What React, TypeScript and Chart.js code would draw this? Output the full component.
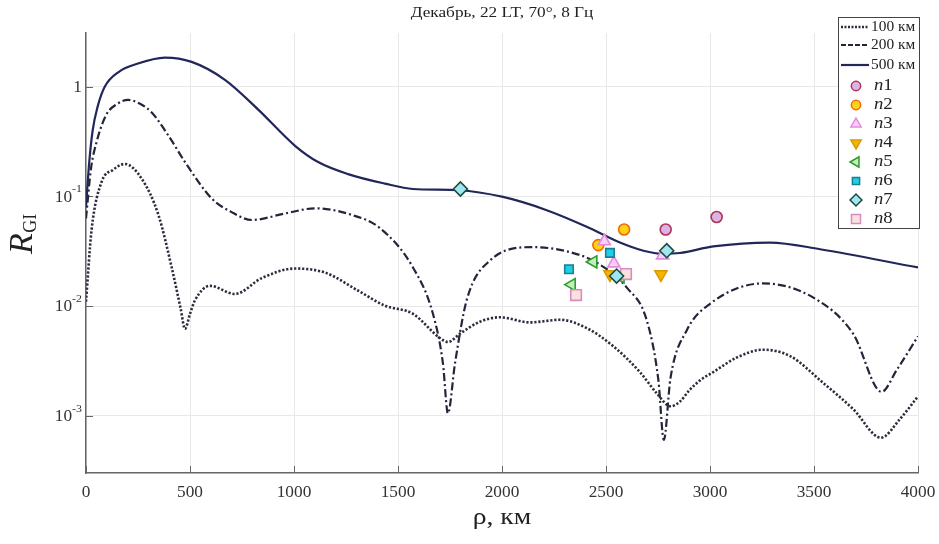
import React, { useEffect, useRef } from 'react';
import { Chart, registerables } from 'chart.js';
import { drawPoint } from 'chart.js/helpers';

Chart.register(...registerables);

const SERIF = '"Liberation Serif", "Times New Roman", serif';
const SX = 1.12;

// ---- text ----
const titleText = 'Декабрь, 22 LT, 70°, 8 Гц';
const xTitle = 'ρ, км';
const yTitleMain = 'R';
const yTitleSub = 'GI';

// ---- ticks ----
const xTickValues = [0, 500, 1000, 1500, 2000, 2500, 3000, 3500, 4000];
const xTickLabels = ['0', '500', '1000', '1500', '2000', '2500', '3000', '3500', '4000'];
const yTickValues = [0.001, 0.01, 0.1, 1];
const yTickLabels = ['10^-3', '10^-2', '10^-1', '1'];

// ---- curves ----
const rho100 = [0, 27, 75, 130, 187, 268, 348, 412, 455, 476, 500, 524, 596, 716, 845, 1005, 1149, 1309, 1437, 1572, 1702, 1740, 1798, 1894, 1990, 2135, 2279, 2407, 2535, 2663, 2744, 2810, 2856, 2900, 2952, 3016, 3130, 3255, 3385, 3543, 3688, 3822, 3913, 4000];
const r100 = [0.011, 0.05, 0.136, 0.175, 0.198, 0.145, 0.068, 0.0225, 0.0095, 0.0062, 0.0085, 0.0113, 0.0153, 0.0129, 0.018, 0.022, 0.0202, 0.0138, 0.0101, 0.0085, 0.0051, 0.0047, 0.0056, 0.0072, 0.0079, 0.0071, 0.0075, 0.0063, 0.0043, 0.0025, 0.0016, 0.00122, 0.00135, 0.0017, 0.0021, 0.0025, 0.0034, 0.004, 0.0035, 0.002, 0.00115, 0.00063, 0.00093, 0.0015];

const rho200 = [0, 24, 48, 96, 150, 202, 260, 317, 400, 476, 604, 700, 797, 957, 1101, 1277, 1413, 1572, 1668, 1716, 1740, 1774, 1830, 1942, 2149, 2311, 2455, 2599, 2696, 2752, 2778, 2810, 2888, 3000, 3255, 3495, 3688, 3825, 3897, 4000];
const r200 = [0.063, 0.18, 0.3, 0.55, 0.7, 0.76, 0.7, 0.58, 0.35, 0.206, 0.096, 0.072, 0.061, 0.07, 0.078, 0.068, 0.0515, 0.0225, 0.0085, 0.003, 0.00105, 0.003, 0.0113, 0.026, 0.0345, 0.0316, 0.0249, 0.0148, 0.0074, 0.0021, 0.0006, 0.0022, 0.006, 0.0105, 0.0161, 0.012, 0.0056, 0.00165, 0.0026, 0.0053];

const rho500 = [0, 15, 32, 55, 90, 160, 236, 380, 508, 668, 828, 1005, 1116, 1260, 1437, 1572, 1793, 2005, 2215, 2407, 2567, 2680, 2770, 2856, 3016, 3288, 3529, 4000];
const r500 = [0.08, 0.2, 0.4, 0.65, 1.0, 1.38, 1.6, 1.85, 1.69, 1.16, 0.62, 0.29, 0.206, 0.16, 0.131, 0.117, 0.114, 0.099, 0.075, 0.053, 0.038, 0.032, 0.03, 0.0305, 0.035, 0.038, 0.033, 0.0225];

// ---- measured points ----
const n1Rho = [2787, 3032];
const n1R = [0.05, 0.065];
const n2Rho = [2463, 2587];
const n2R = [0.036, 0.05];
const n3Rho = [2492, 2538, 2772];
const n3R = [0.039, 0.0245, 0.029];
const n4Rho = [2519, 2764];
const n4R = [0.0195, 0.0195];
const n5Rho = [2335, 2439, 2570];
const n5R = [0.0157, 0.0253, 0.0185];
const n6Rho = [2322, 2519];
const n6R = [0.0217, 0.0306];
const n7Rho = [1800, 2551, 2792];
const n7R = [0.117, 0.0188, 0.032];
const n8Rho = [2356, 2596];
const n8R = [0.0126, 0.0196];

const toXY = (xs: number[], ys: number[]) => xs.map((x, i) => ({ x, y: ys[i] }));

const lineSeries = [
  { label: '100 км', rho: rho100, r: r100, color: '#2c2c3e', width: 2.6, dash: [2.2, 1.8], legDash: [2, 1.5] },
  { label: '200 км', rho: rho200, r: r200, color: '#23253a', width: 2.2, dash: [8, 3, 2, 3], legDash: [5, 2] },
  { label: '500 км', rho: rho500, r: r500, color: '#22275a', width: 2.2, dash: [], legDash: [] },
];

const markerSeries = [
  { label: 'n1', rho: n1Rho, r: n1R, style: 'circle', rotation: 0, radius: 5.5, fill: '#dcb4e4', stroke: '#b03358' },
  { label: 'n2', rho: n2Rho, r: n2R, style: 'circle', rotation: 0, radius: 5.5, fill: '#ffd21a', stroke: '#f06a00' },
  { label: 'n3', rho: n3Rho, r: n3R, style: 'triangle', rotation: 0, radius: 7, fill: '#f9d0f4', stroke: '#e48ade' },
  { label: 'n4', rho: n4Rho, r: n4R, style: 'triangle', rotation: 180, radius: 7, fill: '#f5b400', stroke: '#dc9800' },
  { label: 'n5', rho: n5Rho, r: n5R, style: 'triangle', rotation: 270, radius: 7, fill: '#c4f0b8', stroke: '#2e9a2e' },
  { label: 'n6', rho: n6Rho, r: n6R, style: 'rect', rotation: 0, radius: 6, fill: '#20cfe6', stroke: '#1a7f94' },
  { label: 'n7', rho: n7Rho, r: n7R, style: 'rectRot', rotation: 0, radius: 7, fill: '#9fe6f0', stroke: '#1d4a40' },
  { label: 'n8', rho: n8Rho, r: n8R, style: 'rect', rotation: 0, radius: 7.5, fill: '#fbe3dc', stroke: '#d98ac8' },
];

function sText(ctx: CanvasRenderingContext2D, text: string, x: number, y: number, font: string, align: string, color = '#222', sx = SX) {
  ctx.save();
  ctx.font = font;
  ctx.textBaseline = 'middle';
  ctx.textAlign = 'left';
  const w = ctx.measureText(text).width * sx;
  const left = align === 'left' ? x : align === 'center' ? x - w / 2 : x - w;
  ctx.translate(left, y);
  ctx.scale(sx, 1);
  ctx.fillStyle = color;
  ctx.fillText(text, 0, 0);
  ctx.restore();
  return w;
}

const decor = {
  id: 'decor',
  beforeDatasetsDraw(chart: any) {
    const { ctx, chartArea: a, scales } = chart;
    const x = scales.x, y = scales.y;
    ctx.save();
    ctx.strokeStyle = '#666';
    ctx.lineWidth = 1;
    for (const v of xTickValues) {
      const px = Math.round(x.getPixelForValue(v)) + 0.5;
      ctx.beginPath(); ctx.moveTo(px, a.bottom); ctx.lineTo(px, a.bottom - 7); ctx.stroke();
    }
    for (const v of yTickValues) {
      const py = Math.round(y.getPixelForValue(v)) + 0.5;
      ctx.beginPath(); ctx.moveTo(a.left, py); ctx.lineTo(a.left + 7, py); ctx.stroke();
    }
    ctx.restore();
  },
  afterDraw(chart: any) {
    const { ctx, chartArea: a, scales } = chart;
    const x = scales.x, y = scales.y;
    const mid = (a.left + a.right) / 2;
    ctx.save();
    // title
    sText(ctx, titleText, mid, 13, `15px ${SERIF}`, 'center', '#222', 1.15);
    // x tick labels
    xTickValues.forEach((v, i) => {
      sText(ctx, xTickLabels[i], x.getPixelForValue(v), 493, `16px ${SERIF}`, 'center', '#333', 1.08);
    });
    // y tick labels
    yTickValues.forEach((v, i) => {
      const py = y.getPixelForValue(v);
      const lab = yTickLabels[i];
      const right = 82;
      if (lab.includes('^')) {
        const [base, exp] = lab.split('^');
        const ew = sText(ctx, exp, right, py - 7, `11px ${SERIF}`, 'right', '#333', 1.08);
        sText(ctx, base, right - ew, py + 1, `16px ${SERIF}`, 'right', '#333', 1.08);
      } else {
        sText(ctx, lab, right, py + 1, `16px ${SERIF}`, 'right', '#333', 1.08);
      }
    });
    // x title
    sText(ctx, xTitle, mid, 518, `24px ${SERIF}`, 'center', '#222', 1.15);
    // y title (rotated)
    ctx.save();
    ctx.translate(0, 0);
    ctx.fillStyle = '#222';
    ctx.textAlign = 'left';
    ctx.textBaseline = 'alphabetic';
    ctx.translate(32, 254);
    ctx.rotate(-Math.PI / 2);
    ctx.font = `italic 34px ${SERIF}`;
    ctx.fillText(yTitleMain, 0, 0);
    const rw = ctx.measureText(yTitleMain).width;
    ctx.font = `18px ${SERIF}`;
    ctx.fillText(yTitleSub, rw + 0.5, 4);
    ctx.restore();

    // legend
    const lx = 838.5, ly = 17.5, lw = 81, lh = 211;
    ctx.fillStyle = '#fff';
    ctx.fillRect(lx, ly, lw, lh);
    ctx.strokeStyle = '#444';
    ctx.lineWidth = 1;
    ctx.strokeRect(lx, ly, lw, lh);
    const lineRows = [27, 45, 65];
    lineSeries.forEach((s, i) => {
      const yy = lineRows[i];
      ctx.save();
      ctx.setLineDash(s.legDash);
      ctx.lineWidth = s.width;
      ctx.strokeStyle = s.color;
      ctx.beginPath(); ctx.moveTo(841, yy); ctx.lineTo(869, yy); ctx.stroke();
      ctx.restore();
      sText(ctx, s.label, 871, yy, `14px ${SERIF}`, 'left', '#222', 1.1);
    });
    markerSeries.forEach((m, i) => {
      const yy = 86 + 19 * i;
      ctx.save();
      ctx.fillStyle = m.fill;
      ctx.strokeStyle = m.stroke;
      ctx.lineWidth = 1.5;
      drawPoint(ctx, { pointStyle: m.style as any, rotation: m.rotation, radius: m.radius * 0.85, borderWidth: 1.5 }, 856, yy);
      ctx.restore();
      const w = sText(ctx, m.label[0], 874, yy, `italic 17px ${SERIF}`, 'left', '#222', 1.1);
      sText(ctx, m.label.slice(1), 874 + w, yy, `17px ${SERIF}`, 'left', '#222', 1.1);
    });
    ctx.restore();
  },
};

export default function App() {
  const ref = useRef<HTMLCanvasElement>(null);
  useEffect(() => {
    const datasets: any[] = [];
    markerSeries.forEach((m, i) => {
      datasets.push({
        label: m.label,
        data: toXY(m.rho, m.r),
        showLine: false,
        pointStyle: m.style,
        rotation: m.rotation,
        pointRadius: m.radius,
        pointBorderWidth: 1.6,
        backgroundColor: m.fill,
        borderColor: m.stroke,
        pointBackgroundColor: m.fill,
        pointBorderColor: m.stroke,
        order: m.label === 'n7' ? 0 : 10 - i,
      });
    });
    lineSeries.forEach((s) => {
      datasets.push({
        label: s.label,
        data: toXY(s.rho, s.r),
        showLine: true,
        pointRadius: 0,
        pointHitRadius: 0,
        borderColor: s.color,
        borderWidth: s.width,
        borderDash: s.dash,
        cubicInterpolationMode: 'monotone',
        fill: false,
        order: 100,
      });
    });
    const chart = new Chart(ref.current!, {
      type: 'scatter',
      data: { datasets },
      options: {
        responsive: false,
        animation: false,
        devicePixelRatio: 1,
        layout: { padding: { top: 33, right: 21, left: 0, bottom: 0 } },
        plugins: { legend: { display: false }, tooltip: { enabled: false }, title: { display: false } },
        scales: {
          x: {
            type: 'linear',
            min: 0,
            max: 4000,
            afterBuildTicks: (sc: any) => { sc.ticks = xTickValues.map((v) => ({ value: v })); },
            afterFit: (sc: any) => { sc.height = 71; },
            ticks: { display: false },
            grid: { color: '#e8e8e8', lineWidth: 1, drawTicks: false },
            border: { display: true, color: '#666', width: 1.5 },
          },
          y: {
            type: 'logarithmic',
            min: 3.3e-4,
            max: 3.1,
            afterBuildTicks: (sc: any) => { sc.ticks = yTickValues.map((v) => ({ value: v })); },
            afterFit: (sc: any) => { sc.width = 86; },
            ticks: { display: false },
            grid: { color: '#e8e8e8', lineWidth: 1, drawTicks: false },
            border: { display: true, color: '#666', width: 1.5 },
          },
        },
      } as any,
      plugins: [decor],
    });
    return () => chart.destroy();
  }, []);
  return (
    <div style={{ position: 'fixed', left: 0, top: 0, width: 939, height: 544, background: '#fff' }}>
      <canvas ref={ref} width={939} height={544} style={{ display: 'block', width: 939, height: 544 }} />
    </div>
  );
}
